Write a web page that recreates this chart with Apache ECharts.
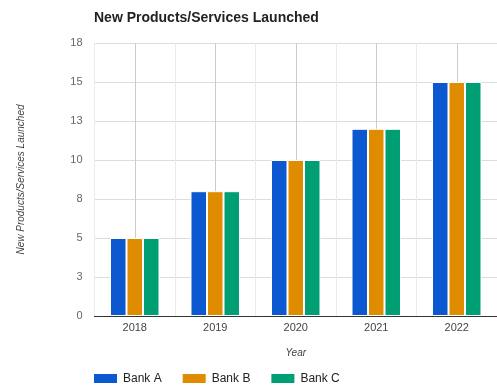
<!DOCTYPE html>
<html>
<head>
<meta charset="utf-8">
<script src="https://cdn.jsdelivr.net/npm/echarts@6/dist/echarts.min.js"></script>
<style>
  html, body { margin: 0; padding: 0; background: #fff; }
  #chart { width: 497px; height: 387px; }
</style>
</head>
<body>
<div id="chart"></div>
<script>
// Launch counts per year for each bank
const years = ['2018', '2019', '2020', '2021', '2022'];
const bankA = [5, 8, 10, 12, 15];
const bankB = [5, 8, 10, 12, 15];
const bankC = [5, 8, 10, 12, 15];
const seriesNames = ['Bank A', 'Bank B', 'Bank C'];
const seriesColors = ['#0c58d0', '#e08c00', '#009e73'];

const FONT = '"Liberation Sans", Arial, sans-serif';
const chart = echarts.init(document.getElementById('chart'));

const makeBar = (name, data, color) => ({
  name,
  type: 'bar',
  data,
  barWidth: 16.5,
  barGap: '0%',
  itemStyle: { color, borderColor: '#ffffff', borderWidth: 1 }
});

chart.setOption({
  animation: false,
  textStyle: { fontFamily: FONT },
  title: {
    text: 'New Products/Services Launched',
    left: 89, top: 6,
    textStyle: { fontFamily: FONT, fontSize: 14, fontWeight: 'bold', color: '#222' }
  },
  legend: {
    left: 87, top: 367,
    itemWidth: 25, itemHeight: 11, itemGap: 19,
    icon: 'rect',
    textStyle: { fontFamily: FONT, fontSize: 12, color: '#222' },
    data: seriesNames
  },
  grid: { left: 94.5, right: 0, top: 43, bottom: 71, containLabel: false },
  xAxis: [
    {
      type: 'category',
      data: years,
      name: 'Year',
      nameLocation: 'middle',
      nameGap: 32,
      nameTextStyle: { fontFamily: FONT, fontSize: 10, fontStyle: 'italic', color: '#444' },
      axisLine: { lineStyle: { color: '#333', width: 1 } },
      axisTick: { show: false },
      axisLabel: { fontFamily: FONT, fontSize: 11, color: '#444', margin: 6 },
      splitLine: { show: true, lineStyle: { color: '#ebebeb', width: 1 } }
    },
    {
      type: 'category',
      data: years,
      position: 'bottom',
      axisLine: { show: false },
      axisTick: { show: false },
      axisLabel: { show: false },
      splitLine: { show: true, alignWithLabel: true, lineStyle: { color: '#cccccc', width: 1 } }
    }
  ],
  yAxis: {
    type: 'value',
    min: 0, max: 17.5, interval: 2.5,
    name: 'New Products/Services Launched',
    nameLocation: 'middle',
    nameGap: 68,
    nameTextStyle: { fontFamily: FONT, fontSize: 10, fontStyle: 'italic', color: '#444' },
    axisLine: { show: false },
    axisTick: { show: false },
    axisLabel: {
      fontFamily: FONT, fontSize: 11, color: '#666', margin: 12,
      formatter: v => String(Math.round(v))
    },
    splitLine: { lineStyle: { color: '#dddddd', width: 1 } }
  },
  series: [
    makeBar(seriesNames[0], bankA, seriesColors[0]),
    makeBar(seriesNames[1], bankB, seriesColors[1]),
    makeBar(seriesNames[2], bankC, seriesColors[2])
  ]
});
</script>
</body>
</html>
